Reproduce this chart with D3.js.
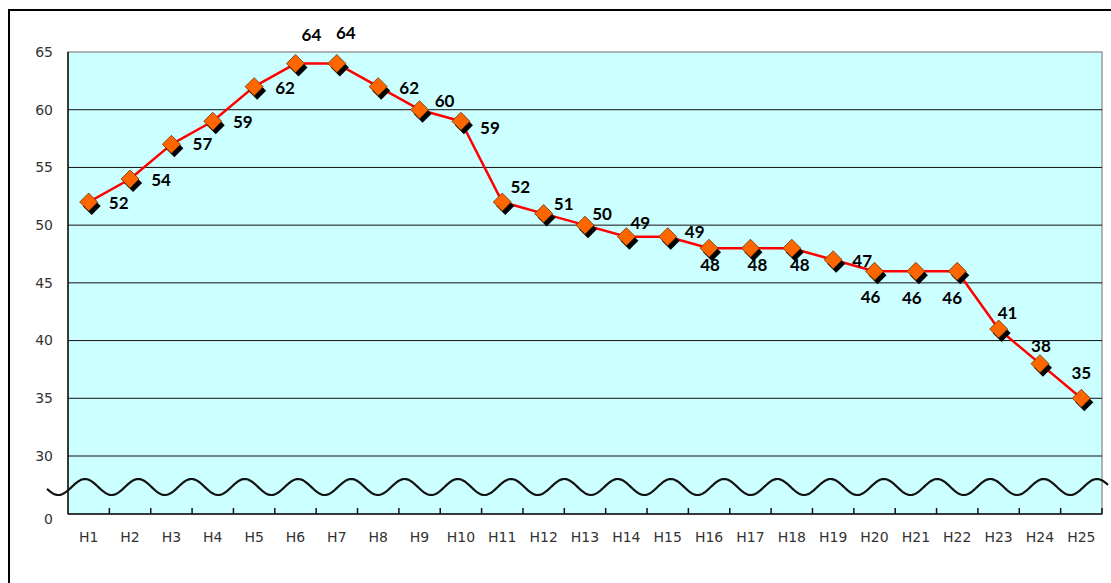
<!DOCTYPE html>
<html><head><meta charset="utf-8">
<script src="https://cdn.jsdelivr.net/npm/d3@7"></script>
<style>
html,body{margin:0;padding:0;background:#fff;}
svg{display:block;}
</style></head>
<body>
<svg id="chart" width="1111" height="583"></svg>
<script>
const categories = ["H1","H2","H3","H4","H5","H6","H7","H8","H9","H10","H11","H12","H13","H14","H15","H16","H17","H18","H19","H20","H21","H22","H23","H24","H25"];
const values = [52,54,57,59,62,64,64,62,60,59,52,51,50,49,49,48,48,48,47,46,46,46,41,38,35];
const yTicks = [0,30,35,40,45,50,55,60,65];
// label placement relative to each point (layout only)
const labelDx = [30,31,31,30,31,16,9,31,25,29,18,20,17,14,27,1,7,8,29,-4,-4,-5,9,1,0];
const labelDy = [1,1,0,1,1,-29,-31,1,-9,7,-15,-10,-11,-14,-5,17,17,17,1,26,27,27,-16,-18,-25];

const svg = d3.select("#chart");
const L = 68, R = 1102, T = 52, B = 514;

const x = d3.scaleBand().domain(categories).range([L, R]).padding(0);
// broken axis: 0 at bottom, 30..65 linear above the break
const y = d3.scaleLinear().domain([0, 30, 65]).range([B, 456, T]);

// outer frame
svg.append("path").attr("d", `M9,583 V10 H1111`).attr("fill","none").attr("stroke","#000").attr("stroke-width",2);

// plot background
svg.append("rect").attr("x",L).attr("y",T).attr("width",R-L).attr("height",B-T)
  .attr("fill","#CCFFFF").attr("stroke","#9a9a9a").attr("stroke-width",1.5);

// gridlines
svg.append("g").selectAll("line").data(yTicks.filter(d => d >= 30 && d < 65)).join("line")
  .attr("x1",L).attr("x2",R).attr("y1",d=>y(d)).attr("y2",d=>y(d))
  .attr("stroke","#111").attr("stroke-width",1);

// wave (axis break decoration)
const waveY = 487, amp = 8, period = 53.26, peak0 = 85;
const wavePts = d3.range(47, 1109, 1).map(px => [px, waveY - amp*Math.cos(2*Math.PI*(px-peak0)/period)]);
svg.append("path").attr("d", d3.line()(wavePts)).attr("fill","none").attr("stroke","#111").attr("stroke-width",2.2);

// left axis
svg.append("line").attr("x1",L).attr("x2",L).attr("y1",T).attr("y2",B).attr("stroke","#111").attr("stroke-width",1.5);
// bottom axis
svg.append("line").attr("x1",L).attr("x2",R).attr("y1",B).attr("y2",B).attr("stroke","#111").attr("stroke-width",1.5);
// x ticks at category boundaries (inside)
const bounds = categories.map(c => x(c) + x.bandwidth());
svg.append("g").selectAll("line").data(bounds).join("line")
  .attr("x1",d=>d).attr("x2",d=>d).attr("y1",B).attr("y2",B-6).attr("stroke","#111").attr("stroke-width",1.5);

// y tick labels
svg.append("g").selectAll("text").data(yTicks).join("text")
  .attr("x",53).attr("y",d=>y(d) + (d===0?5:0)).attr("dy","0.35em")
  .attr("text-anchor","end").attr("font-family","'DejaVu Sans', Verdana, sans-serif").attr("font-size",14)
  .attr("fill","#333").text(d=>d);

// x tick labels
svg.append("g").selectAll("text").data(categories).join("text")
  .attr("x",c=>x(c)+x.bandwidth()/2).attr("y",537).attr("dy","0.35em")
  .attr("text-anchor","middle").attr("font-family","'DejaVu Sans', Verdana, sans-serif").attr("font-size",14)
  .attr("fill","#333").text(c=>c);

// line
const pts = categories.map((c,i)=>({c, v:values[i], i}));
const px = d => x(d.c) + x.bandwidth()/2;
svg.append("path").datum(pts)
  .attr("d", d3.line().x(px).y(d=>y(d.v)))
  .attr("fill","none").attr("stroke","#FF0000").attr("stroke-width",2.5).attr("stroke-linejoin","round");

// markers
const dia = 9;
const diamond = `M0,${-dia} L${dia},0 L0,${dia} L${-dia},0 Z`;
const mk = svg.append("g").selectAll("g").data(pts).join("g")
  .attr("transform", d=>`translate(${px(d)},${y(d.v)})`);
mk.append("path").attr("d",diamond).attr("transform","translate(3,4)").attr("fill","#000");
mk.append("path").attr("d",diamond).attr("fill","#FF6600").attr("stroke","#6b3300").attr("stroke-width",0.8);

// data labels
svg.append("g").selectAll("text").data(pts).join("text")
  .attr("x",d=>px(d)+labelDx[d.i]).attr("y",d=>y(d.v)+labelDy[d.i]).attr("dy","0.36em")
  .attr("text-anchor","middle").attr("font-family","Lato, 'DejaVu Sans', sans-serif")
  .attr("font-weight","bold").attr("font-size",17).attr("fill","#000").text(d=>d.v);
</script>
</body></html>
